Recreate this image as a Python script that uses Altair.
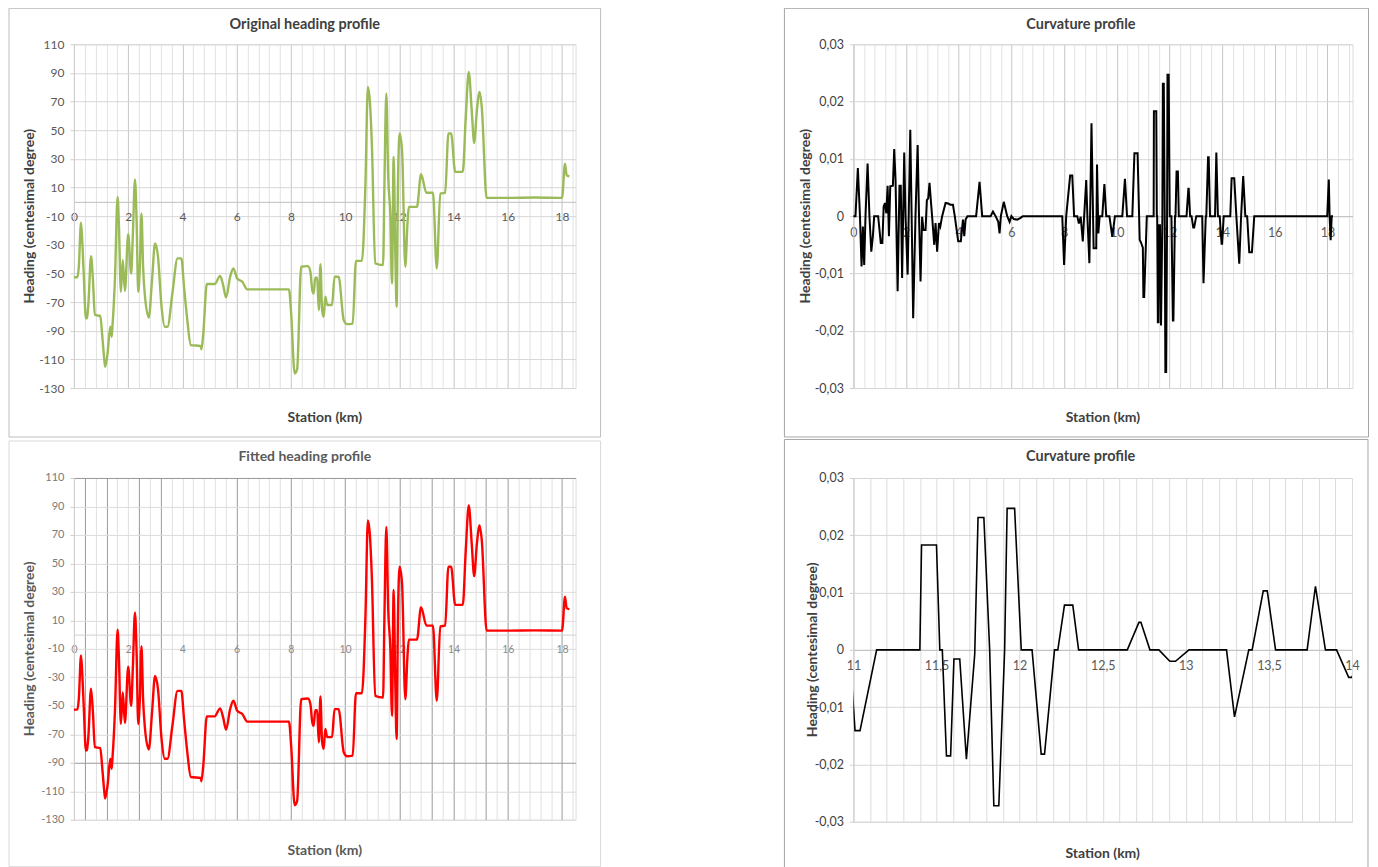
import altair as alt
import pandas as pd

FONT = "Lato"

# ---------------- heading profile (station km, heading in centesimal degrees)
heading_km = [
    0.00, 0.13, 0.18, 0.26, 0.30, 0.36, 0.44, 0.48, 0.53, 0.63,
    0.70, 0.77, 0.97, 1.05, 1.12, 1.15, 1.24, 1.34, 1.39, 1.42,
    1.51, 1.61, 1.66, 1.73, 1.80, 1.88, 2.00, 2.11, 2.17, 2.25,
    2.31, 2.37, 2.43, 2.49, 2.55, 2.61, 2.76, 2.88, 2.99, 3.10,
    3.23, 3.35, 3.45, 3.63, 3.82, 3.96, 4.06, 4.18, 4.31, 4.68,
    4.70, 4.77, 4.90, 5.19, 5.39, 5.50, 5.61, 5.76, 5.88, 6.02,
    6.21, 6.39, 7.93, 8.01, 8.14, 8.23, 8.38, 8.63, 8.72, 8.79,
    8.84, 8.90, 8.97, 9.03, 9.09, 9.15, 9.21, 9.27, 9.34, 9.52,
    9.61, 9.76, 9.95, 10.07, 10.28, 10.40, 10.62, 10.75, 10.84, 10.91,
    10.99, 11.11, 11.40, 11.45, 11.52, 11.59, 11.67, 11.73, 11.79, 11.85,
    11.90, 11.95, 12.01, 12.10, 12.22, 12.30, 12.35, 12.65, 12.80, 13.00,
    13.24, 13.38, 13.51, 13.69, 13.81, 13.91, 14.06, 14.34, 14.45, 14.56,
    14.67, 14.76, 14.86, 14.96, 15.04, 15.22, 16.00, 17.00, 18.00, 18.11,
    18.17, 18.27,
]
heading_deg = [
    -52.8, -52.5, -45, -14.6, -25, -50, -81.4, -81, -72, -37.9,
    -54.6, -79, -79.7, -95, -110.4, -115.1, -105.8, -87.2, -94.2, -87,
    -54.6, 3.5, -17.4, -62.8, -40.7, -62.1, -22.5, -50, -24.4, 15.6,
    -12.8, -62.8, -45.3, -8.1, -45.3, -64, -80.7, -54.6, -29, -38.4,
    -73.2, -87.2, -87.2, -64, -39.5, -39.5, -59.3, -82.5, -100, -100.7,
    -103, -91.8, -57.4, -57.4, -51.8, -58, -66.7, -52.3, -46.5, -53.5,
    -55.8, -61.1, -61.1, -77.9, -119.8, -117, -45.3, -44.9, -48.8, -61.7,
    -64, -53, -53, -75.6, -43.5, -75, -80.3, -66.3, -72, -72,
    -52.3, -52.3, -82.6, -85.4, -85, -41.2, -41.2, 12.8, 80.2, 71,
    38.4, -43, -44.2, 12, 75.6, 17.4, -10.5, -57, 31.4, -33.7,
    -73.3, 12.8, 47.7, 36, -45.4, -15.1, -3.5, -3.5, 19.3, 6.3,
    6.3, -46.5, 5.8, 6.3, 47.7, 47.7, 20.9, 20.9, 59.3, 90.7,
    63.9, 41.1, 63.9, 76.7, 66.3, 2.8, 2.8, 3.0, 2.8, 26.7,
    18.6, 17.9,
]

# ---------------- curvature profile (station km, curvature)
curv_km = [
    0.00, 0.08, 0.17, 0.25, 0.31, 0.36, 0.41, 0.46, 0.54, 0.61,
    0.68, 0.74, 0.79, 0.94, 1.04, 1.10, 1.15, 1.20, 1.25, 1.30,
    1.35, 1.40, 1.50, 1.55, 1.60, 1.68, 1.75, 1.80, 1.85, 1.93,
    1.98, 2.06, 2.16, 2.21, 2.27, 2.36, 2.44, 2.49, 2.55, 2.61,
    2.66, 2.74, 2.79, 2.84, 2.89, 2.94, 2.99, 3.07, 3.12, 3.18,
    3.25, 3.30, 3.37, 3.50, 3.60, 3.68, 3.78, 3.85, 3.98, 4.08,
    4.16, 4.21, 4.26, 4.33, 4.66, 4.79, 4.89, 5.21, 5.30, 5.40,
    5.50, 5.55, 5.60, 5.71, 5.84, 5.93, 6.00, 6.09, 6.22, 6.35,
    6.43, 7.93, 8.00, 8.08, 8.23, 8.31, 8.38, 8.50, 8.56, 8.63,
    8.71, 8.76, 8.84, 8.89, 8.96, 9.04, 9.12, 9.22, 9.25, 9.30,
    9.35, 9.45, 9.53, 9.60, 9.72, 9.83, 9.93, 10.21, 10.31, 10.39,
    10.59, 10.67, 10.79, 10.87, 10.92, 10.99, 11.01, 11.04, 11.14, 11.40,
    11.41, 11.50, 11.52, 11.535, 11.56, 11.585, 11.605, 11.64, 11.68, 11.73,
    11.75, 11.785, 11.82, 11.845, 11.875, 11.91, 11.925, 11.97, 12.01, 12.075,
    12.13, 12.15, 12.21, 12.23, 12.27, 12.32, 12.355, 12.648, 12.718, 12.73,
    12.784, 12.838, 12.904, 12.938, 13.019, 13.245, 13.293, 13.379, 13.399, 13.466,
    13.49, 13.54, 13.73, 13.78, 13.84, 13.907, 13.98, 14.0, 14.06, 14.31,
    14.36, 14.46, 14.54, 14.65, 14.72, 14.80, 14.88, 14.95, 15.03, 15.13,
    15.22, 17.99, 18.05, 18.08, 18.12, 18.16, 18.21,
]
curv_val = [
    0, 0, 0.0084, 0, -0.0088, -0.0018, -0.0085, 0, 0.0092, 0,
    -0.0062, -0.0035, 0, 0, -0.0047, -0.0047, 0.0017, 0.0023, 0.0005, 0.0053,
    -0.0035, 0.0052, 0.0053, 0.0117, 0.0064, -0.0131, 0.0053, 0.0053, -0.0108, 0.0111,
    -0.0001, -0.0102, 0.0151, 0.0005, -0.0178, 0.0005, 0.0124, 0.0005, -0.0114, -0.0001,
    -0.0024, -0.0024, 0.0028, 0.0031, 0.0058, 0.0028, -0.0001, -0.005, -0.0012, -0.0062,
    -0.0012, -0.0018, 0, 0.0023, 0.0022, 0.002, 0.002, 0, -0.0044, -0.0044,
    -0.0006, -0.0035, -0.0006, 0, 0, 0.006, 0, 0, 0.0008, 0,
    -0.001, -0.003, 0, 0.0025, 0, -0.001, 0, -0.0005, -0.0006, -0.0003,
    0, 0, -0.0085, 0, 0.0071, 0.0071, 0, 0, -0.0013, -0.0001,
    -0.0044, -0.0001, 0.0063, -0.0007, -0.0082, 0.0162, -0.0056, -0.0056, 0.009, -0.003,
    0, 0, 0.0056, 0, 0, -0.0036, 0, 0, 0.0065, 0,
    0, 0.011, 0.011, -0.0041, -0.0046, -0.0055, -0.0141, -0.0141, 0, 0,
    0.0183, 0.0183, 0, 0, -0.0185, -0.0185, -0.0016, -0.0016, -0.0191, -0.0008,
    0.0231, 0.0231, 0, -0.0272, -0.0272, 0, 0.0247, 0.0247, 0, 0,
    -0.0182, -0.0182, 0, 0, 0.0078, 0.0078, 0, 0, 0.0048, 0.0048,
    0, 0, -0.002, -0.002, 0, 0, -0.0117, 0, 0, 0.0103,
    0.0103, 0, 0, 0.0111, 0, 0, -0.0048, -0.0048, 0, 0,
    0.0066, 0.0066, 0, -0.0083, 0, 0.007, 0, 0, -0.0063, -0.0063,
    0, 0, 0.0064, 0, -0.0042, 0, 0,
]

# ---------------- axis tick positions
heading_y_ticks = [110, 90, 70, 50, 30, 10, -10, -30, -50, -70, -90, -110, -130]
curv_y_ticks = [0.03, 0.02, 0.01, 0, -0.01, -0.02, -0.03]
grid_x_full = [round(i * 0.4, 1) for i in range(47)]
grid_x_full_tr = [round(i * 0.4, 1) for i in range(48)]
grid_x_zoom = [round(11 + i * 0.1, 1) for i in range(31)]
fitted_dark_x = [0.4, 1.2, 2.4, 3.2, 6, 8, 10, 12, 13.2, 14, 15.2, 16, 18]

heading_df = pd.DataFrame({"km": heading_km, "deg": heading_deg})
curv_df = pd.DataFrame({"km": curv_km, "k": curv_val})
one = pd.DataFrame({"k": [0]})

LABEL_EXPR = "replace(toString(datum.value), '.', ',')"


def frame(w, h, l, t, r, b, color):
    return alt.Chart(one).mark_rect(fillOpacity=0, stroke=color, strokeWidth=1).encode(
        x=alt.value(-l), x2=alt.value(w + r), y=alt.value(-t), y2=alt.value(h + b))


def text(s, x, y, size=14, angle=0, color="#404040"):
    return alt.Chart(one).mark_text(
        text=s, font=FONT, fontSize=size, fontWeight="bold", color=color,
        angle=angle, align="center", baseline="middle").encode(
        x=alt.value(x), y=alt.value(y))


def x_axis(values, test, offset, grid_color, domain_color, label_color, size):
    return alt.Axis(
        values=values, title="", offset=offset, ticks=False, tickSize=0, labelPadding=10,
        labelExpr=f"({test}) ? {LABEL_EXPR} : ''",
        labelFont=FONT, labelFontSize=size, labelColor=label_color,
        labelOverlap=False, labelFlush=False, labelBound=False,
        grid=True, gridColor=grid_color, gridWidth=1,
        domainColor=domain_color, domainWidth=1)


def y_axis(values, grid_color, label_color, size, tick_color):
    return alt.Axis(
        values=values, title="", labelExpr=LABEL_EXPR, tickSize=4, tickColor=tick_color,
        labelPadding=6, labelFont=FONT, labelFontSize=size, labelColor=label_color,
        labelOverlap=False, labelFlush=False, labelBound=False,
        grid=True, gridColor=grid_color, gridWidth=1,
        domainColor=tick_color, domainWidth=1)


EVEN2 = "datum.value % 2 == 0"

# ---------------- top-left: original heading
W1, H1 = 502, 344
tl_line = alt.Chart(heading_df).mark_line(
    color="#9bbb59", strokeWidth=2.4, interpolate="monotone").encode(
    x=alt.X("km:Q", scale=alt.Scale(domain=[0, 18.5], nice=False, zero=False),
            axis=x_axis(grid_x_full, EVEN2, -(H1 - H1 * 110 / 240),
                        {"condition": {"test": EVEN2, "value": "#c6c6c6"}, "value": "#e2e2e2"},
                        "#bfbfbf", "#595959", 12)),
    y=alt.Y("deg:Q", scale=alt.Scale(domain=[-130, 110], nice=False, zero=False),
            axis=y_axis(heading_y_ticks, "#d6d6d6", "#595959", 12, "#d0d0d0")),
)
tl = alt.layer(
    frame(W1, H1, 65, 36, 25, 49, "#bdbdbd"),
    tl_line,
    text("Original heading profile", (W1 - 40) / 2, -19, size=14.5),
    text("Station (km)", W1 / 2, H1 + 30),
    text("Heading (centesimal degree)", -44, H1 / 2, angle=270),
).properties(width=W1, height=H1)

# ---------------- top-right: curvature (full)
W2, H2 = 499.5, 344
tr_line = alt.Chart(curv_df).mark_line(color="#000000", strokeWidth=2).encode(
    x=alt.X("km:Q", scale=alt.Scale(domain=[0, 18.95], nice=False, zero=False),
            axis=x_axis(grid_x_full_tr, EVEN2, -H2 / 2,
                        {"condition": {"test": EVEN2, "value": "#c6c6c6"}, "value": "#e2e2e2"},
                        "#bfbfbf", "#595959", 12.5)),
    y=alt.Y("k:Q", scale=alt.Scale(domain=[-0.03, 0.03], nice=False, zero=False),
            axis=y_axis(curv_y_ticks, "#d6d6d6", "#404040", 12.5, "#d0d0d0")),
)
tr = alt.layer(
    frame(W2, H2, 69, 36, 16, 49, "#a6a6a6"),
    tr_line,
    text("Curvature profile", (W2 - 44) / 2, -19, size=14.5),
    text("Station (km)", W2 / 2, H2 + 30),
    text("Heading (centesimal degree)", -47.5, H2 / 2, angle=270),
).properties(width=W2, height=H2)

# ---------------- bottom-left: fitted heading
W3, H3 = 502, 342
DARK_X = "indexof(" + str(fitted_dark_x) + ", datum.value) >= 0"
bl_line = alt.Chart(heading_df).mark_line(
    color="#ff0000", strokeWidth=2.4, interpolate="monotone").encode(
    x=alt.X("km:Q", scale=alt.Scale(domain=[0, 18.5], nice=False, zero=False),
            axis=x_axis(grid_x_full, EVEN2, -(H3 - H3 * 110 / 240),
                        {"condition": {"test": DARK_X, "value": "#9a9a9a"}, "value": "#e0e0e0"},
                        "#d0d0d0", "#8a8a8a", 10.5)),
    y=alt.Y("deg:Q", scale=alt.Scale(domain=[-130, 110], nice=False, zero=False),
            axis=y_axis(heading_y_ticks,
                        {"condition": {"test": "datum.value == -90 || datum.value == 110",
                                       "value": "#9a9a9a"}, "value": "#dcdcdc"},
                        "#7a7a7a", 11, "#cfcfcf")),
)
bl = alt.layer(
    frame(W3, H3, 65, 37, 25, 47, "#d9d9d9"),
    bl_line,
    text("Fitted heading profile", (W3 - 40) / 2, -20.5, size=14, color="#5a5a5a"),
    text("Station (km)", W3 / 2, H3 + 31, color="#5a5a5a"),
    text("Heading (centesimal degree)", -44, H3 / 2, angle=270, color="#5a5a5a"),
).properties(width=W3, height=H3)

# ---------------- bottom-right: curvature detail 11-14 km
W4, H4 = 499, 344
HALF = "abs(datum.value * 2 - round(datum.value * 2)) < 0.000001"
br_line = alt.Chart(curv_df).mark_line(color="#000000", strokeWidth=1.6, clip=True).encode(
    x=alt.X("km:Q", scale=alt.Scale(domain=[11, 14], nice=False, zero=False),
            axis=x_axis(grid_x_zoom, HALF, -H4 / 2, "#dcdcdc", "#bfbfbf", "#595959", 12.5)),
    y=alt.Y("k:Q", scale=alt.Scale(domain=[-0.03, 0.03], nice=False, zero=False),
            axis=y_axis(curv_y_ticks, "#d6d6d6", "#404040", 12.5, "#d0d0d0")),
)
br = alt.layer(
    frame(W4, H4, 69, 38.5, 16, 48, "#a6a6a6"),
    br_line,
    text("Curvature profile", (W4 - 44) / 2, -21, size=14.5),
    text("Station (km)", W4 / 2, H4 + 32),
    text("Heading (centesimal degree)", -40.5, H4 / 2, angle=270),
).properties(width=W4, height=H4)

chart = alt.vconcat(
    alt.hconcat(tl, tr, spacing=182),
    alt.hconcat(bl, br, spacing=182),
    spacing=0,
).properties(
    padding={"left": 0, "top": -1, "right": 0, "bottom": 0}, background="#ffffff"
).configure_view(strokeWidth=0).configure(font=FONT)

chart.save("out.html", embed_options={"renderer": "svg", "actions": False})
